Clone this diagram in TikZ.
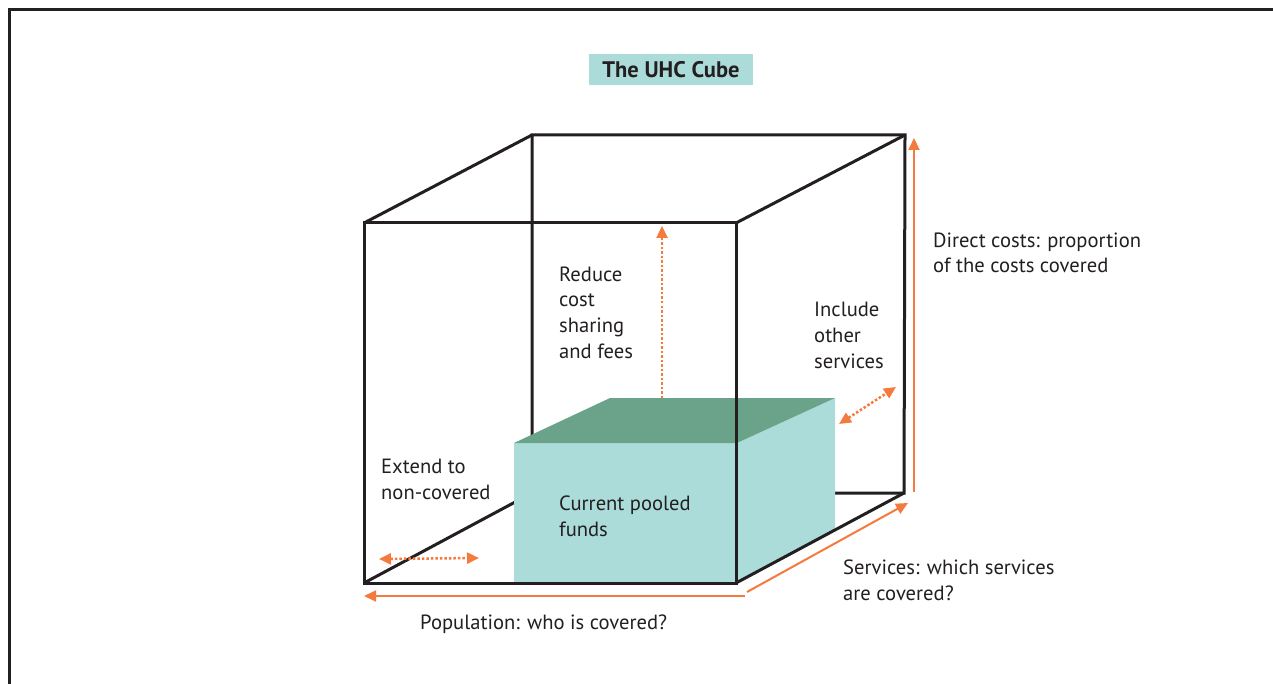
\documentclass[tikz,border=0pt]{standalone}
\usepackage{fontspec}
\setmainfont{PT Sans}
\usetikzlibrary{arrows.meta}
\definecolor{uhcteal}{HTML}{ABDCD9}
\definecolor{uhcgreen}{HTML}{6BA38A}
\definecolor{uhcorange}{HTML}{F47A3D}
\definecolor{uhcdark}{HTML}{231F20}

\begin{document}
\begin{tikzpicture}[
      x=1pt, y=-1pt,
      every node/.style={font=\fontsize{20.6}{25.6}\selectfont, text=uhcdark},
      label/.style={anchor=base west, align=left, inner sep=0pt},
      cubeline/.style={draw=uhcdark, line width=3pt, line join=miter},
      flowarrow/.style={draw=uhcorange, line width=2pt,
                        -{Triangle[length=12pt,width=11pt]}},
      dotarrow/.style={draw=uhcorange, line width=2.5pt, dotted,
                       {Triangle[length=12pt,width=11pt]}-{Triangle[length=12pt,width=11pt]}},
    ]
    \useasboundingbox (0,0) rectangle (1273,684);

    % frame
    \draw[uhcdark, line width=3pt] (9,684) -- (9,10) -- (1274,10);

    % title
    \node[fill=uhcteal, minimum width=164pt, minimum height=31pt, inner sep=0pt,
          font=\fontsize{22.5}{26}\selectfont\bfseries] (title) at (671,70) {The UHC Cube};

    % cube corners
    \coordinate (ftl) at (364,223);
    \coordinate (ftr) at (736,223);
    \coordinate (fbr) at (736,583);
    \coordinate (fbl) at (364,583);
    \coordinate (btl) at (532,135);
    \coordinate (btr) at (905,135);
    \coordinate (bbr) at (904,493);
    \coordinate (bbl) at (532,493);

    % back of the cube
    \draw[cubeline] (btl) -- (btr) -- (bbr) -- (bbl) -- cycle;
    \draw[cubeline] (ftl) -- (btl);
    \draw[cubeline] (ftr) -- (btr);
    \draw[cubeline] (fbl) -- (bbl);

    % current pooled funds
    \fill[uhcteal] (514,443) rectangle (737,583);
    \fill[uhcteal] (737,443) -- (835,398) -- (835,531) -- (737,583) -- cycle;
    \fill[uhcgreen] (514,443) -- (610,398) -- (835,398) -- (737,443) -- cycle;

    % front of the cube
    \draw[cubeline] (fbr) -- (bbr);
    \draw[cubeline] (ftl) rectangle (fbr);

    % axes
    \coordinate (popA) at (745,596);
    \coordinate (popB) at (364,596);
    \coordinate (servA) at (747,592);
    \coordinate (servB) at (908,503);
    \coordinate (costA) at (914,492);
    \coordinate (costB) at (914,138);
    \draw[flowarrow] (popA) -- (popB);
    \draw[flowarrow] (servA) -- (servB);
    \draw[flowarrow] (costA) -- (costB);

    % extensions
    \coordinate (redA) at (662,398);
    \coordinate (redB) at (662,226);
    \coordinate (incA) at (839,424);
    \coordinate (incB) at (896,387);
    \coordinate (extA) at (379,559);
    \coordinate (extB) at (479,558);
    \draw[draw=uhcorange, line width=2.5pt, dotted,
          -{Triangle[length=12pt,width=11pt]}] (redA) -- (redB);
    \draw[dotarrow] (incA) -- (incB);
    \draw[dotarrow] (extA) -- (extB);

    % labels (anchored at the baseline of the last line)
    \node[label] (reduce)  at (559,358) {Reduce\\cost\\sharing\\and fees};
    \node[label] (include) at (814,368) {Include\\other\\services};
    \node[label] (direct)  at (933,273) {Direct costs: proportion\\of the costs covered};
    \node[label] (extend)  at (381,499) {Extend to\\non-covered};
    \node[label] (pooled)  at (559,536) {Current pooled\\funds};
    \node[label] (service) at (843,600) {Services: which services\\are covered?};
    \node[label] (popul)   at (420,629) {Population: who is covered?};
  \end{tikzpicture}
\end{document}
